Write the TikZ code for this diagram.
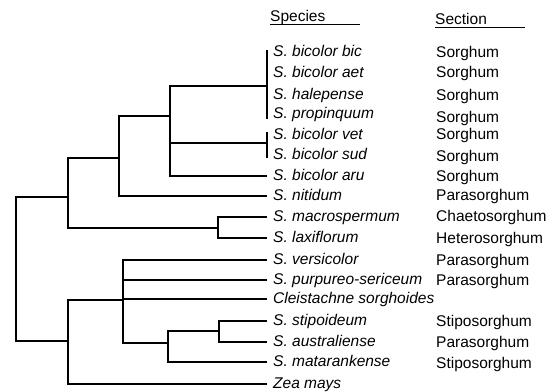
\documentclass[tikz,border=0pt]{standalone}
\usepackage{fontspec}
\setmainfont{Liberation Sans}
\usetikzlibrary{positioning, calc}

\begin{document}
\begin{tikzpicture}[
  x=1pt, y=-1pt,
  species/.style={anchor=west, inner xsep=6pt, inner ysep=0pt, text height=11pt, text depth=3pt, font=\fontsize{15.5}{17}\selectfont\itshape},
  section/.style={anchor=west, inner sep=0pt, text height=11pt, text depth=3pt, font=\fontsize{15.5}{17}\selectfont},
  branch/.style={line width=1.3pt},
  rule/.style={line width=1.1pt}
]
\useasboundingbox (0,0) rectangle (548,391);

%% Headings
\node[section] (spechead) at (270,17) {Species};
\node[section] (sechead) at (435,20) {Section};
\draw[rule] (spechead.south west) -- ++(90,0);
\draw[rule] (sechead.south west) -- ++(90,0);

%% Species
\node[species] (bic) at (267,52) {S. bicolor bic};
\node[species] (aet) at (267,73) {S. bicolor aet};
\node[species] (hal) at (267,95) {S. halepense};
\node[species] (pro) at (267,114) {S. propinquum};
\node[species] (vet) at (267,135) {S. bicolor vet};
\node[species] (sud) at (267,155) {S. bicolor sud};
\node[species] (aru) at (267,176) {S. bicolor aru};
\node[species] (nit) at (267,196) {S. nitidum};
\node[species] (mac) at (267,217) {S. macrospermum};
\node[species] (lax) at (267,238) {S. laxiflorum};
\node[species] (ver) at (267,260) {S. versicolor};
\node[species] (pur) at (267,280) {S. purpureo-sericeum};
\node[species] (cle) at (267,299) {Cleistachne sorghoides};
\node[species] (sti) at (267,321) {S. stipoideum};
\node[species] (aus) at (267,342) {S. australiense};
\node[species] (mat) at (267,362) {S. matarankense};
\node[species] (zea) at (267,384) {Zea mays};

%% Sections
\node[section] (sbic) at (436,53) {Sorghum};
\node[section] (saet) at (436,73) {Sorghum};
\node[section] (shal) at (436,96) {Sorghum};
\node[section] (spro) at (436,118) {Sorghum};
\node[section] (svet) at (436,135) {Sorghum};
\node[section] (ssud) at (436,157) {Sorghum};
\node[section] (saru) at (436,177) {Sorghum};
\node[section] (snit) at (436,196) {Parasorghum};
\node[section] (smac) at (436,217) {Chaetosorghum};
\node[section] (slax) at (436,239) {Heterosorghum};
\node[section] (sver) at (436,261) {Parasorghum};
\node[section] (spur) at (436,281) {Parasorghum};
\node[section] (ssti) at (436,322) {Stiposorghum};
\node[section] (saus) at (436,343) {Parasorghum};
\node[section] (smat) at (436,364) {Stiposorghum};

%% Junctions
\coordinate (nA) at (267,86);
\coordinate (nB) at (267,143);
\coordinate (n1) at (170,116);
\coordinate (n2) at (119,158);
\coordinate (n3) at (68,197);
\coordinate (n4) at (218,228);
\coordinate (root) at (16,269);
\coordinate (n5) at (68,341);
\coordinate (n6) at (123,300);
\coordinate (n7) at (168,343);
\coordinate (n8) at (219,331);

%% Tree
\draw[branch] ([yshift=2pt]bic.west) -- ([yshift=-5pt]pro.west);
\draw[branch] ([yshift=3pt]vet.west) -- ([yshift=-3pt]sud.west);
\draw[branch] (n1) |- (nA);
\draw[branch] (n1) |- (nB);
\draw[branch] (n1) |- (aru.west);
\draw[branch] (n2) |- (n1);
\draw[branch] (n2) |- (nit.west);
\draw[branch] (n3) |- (n2);
\draw[branch] (n3) |- (n4);
\draw[branch] (n4) |- (mac.west);
\draw[branch] (n4) |- (lax.west);
\draw[branch] (root) |- (n3);
\draw[branch] (root) |- (n5);
\draw[branch] (n5) |- (n6);
\draw[branch] (n5) |- (zea.west);
\draw[branch] (n6) |- (ver.west);
\draw[branch] (n6) |- (pur.west);
\draw[branch] (n6) |- (cle.west);
\draw[branch] (n6) |- (n7);
\draw[branch] (n7) |- (n8);
\draw[branch] (n7) |- (mat.west);
\draw[branch] (n8) |- (sti.west);
\draw[branch] (n8) |- (aus.west);

\end{tikzpicture}
\end{document}
